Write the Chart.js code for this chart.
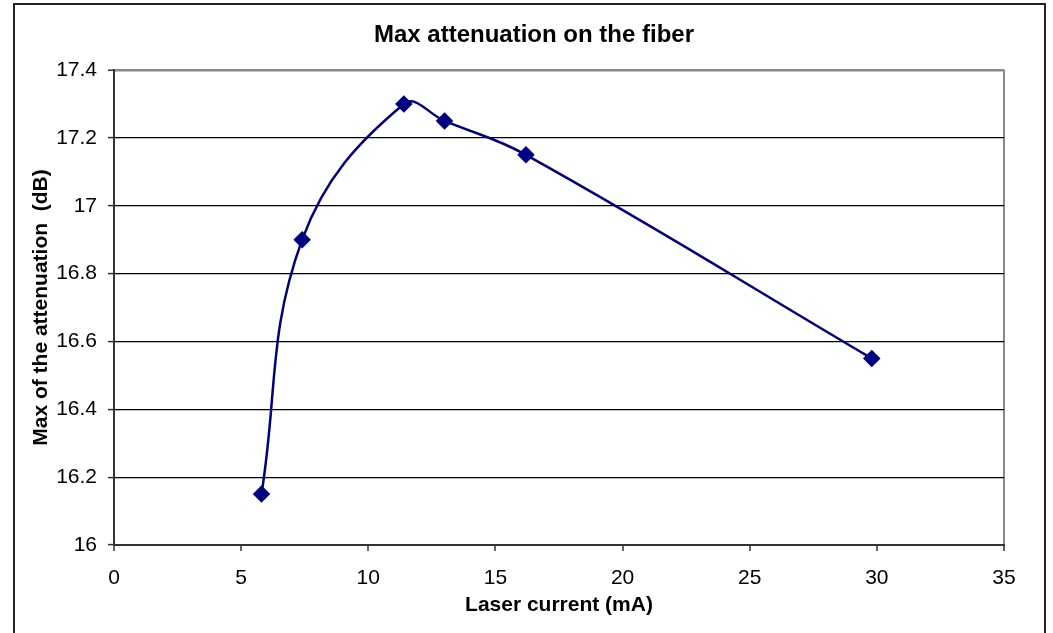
<!DOCTYPE html>
<html lang="en">
<head>
  <meta charset="UTF-8" />
  <title>Max attenuation on the fiber</title>
  <script src="https://cdn.jsdelivr.net/npm/chart.js"></script>
  <style>
    html, body { margin: 0; padding: 0; background: #fff; }
    #wrap { width: 1053px; height: 633px; }
  </style>
</head>
<body>
  <div id="wrap"><canvas id="chart" width="1053" height="633"></canvas></div>

  <script>
    // data
    const laserCurrent = [5.8, 7.4, 11.4, 13, 16.2, 29.8];
    const maxAttenuation = [16.15, 16.9, 17.3, 17.25, 17.15, 16.55];
    const xTicks = [0, 5, 10, 15, 20, 25, 30, 35];
    const yTicks = [16, 16.2, 16.4, 16.6, 16.8, 17, 17.2, 17.4];

    const chartTitle = 'Max attenuation on the fiber';
    const xTitle = 'Laser current (mA)';
    const yTitle = 'Max of the attenuation  (dB)';

    const FONT = '"Liberation Sans", Arial, sans-serif';
    const NAVY = '#000080';

    // outer frame + title centred on the whole chart, like the spreadsheet does
    const framePlugin = {
      id: 'frame',
      beforeDraw(chart) {
        const c = chart.ctx;
        c.save();
        c.fillStyle = '#fff';
        c.fillRect(0, 0, chart.width, chart.height);
        c.strokeStyle = '#222';
        c.lineWidth = 2;
        c.strokeRect(14, 4, 1031, 700);
        c.restore();
      },
      afterDraw(chart) {
        const c = chart.ctx;
        c.save();
        c.fillStyle = '#000';
        c.font = 'bold 24px ' + FONT;
        c.textAlign = 'center';
        c.textBaseline = 'middle';
        c.fillText(chartTitle, 534, 35);
        c.restore();
      }
    };

    new Chart(document.getElementById('chart'), {
      type: 'line',
      data: {
        datasets: [{
          data: laserCurrent.map((x, i) => ({ x: x, y: maxAttenuation[i] })),
          borderColor: NAVY,
          backgroundColor: NAVY,
          borderWidth: 2.5,
          tension: 0.4,
          pointStyle: 'rectRot',
          pointRadius: 7,
          pointBackgroundColor: NAVY,
          pointBorderColor: NAVY,
          fill: false
        }]
      },
      options: {
        responsive: false,
        animation: false,
        layout: { padding: { left: 15, right: 49, top: 70, bottom: 0 } },
        plugins: {
          legend: { display: false },
          title: { display: false },
          tooltip: { enabled: false }
        },
        scales: {
          x: {
            type: 'linear',
            min: 0,
            max: 35,
            afterBuildTicks: s => { s.ticks = xTicks.map(v => ({ value: v })); },
            afterFit: s => { s.height = 88; },
            ticks: {
              color: '#000',
              font: { family: FONT, size: 21 },
              padding: 15,
              maxRotation: 0,
              callback: v => String(v)
            },
            grid: {
              drawOnChartArea: true,
              color: c => (c.tick && c.tick.value === 35) ? '#888' : 'rgba(0,0,0,0)',
              lineWidth: 2,
              tickColor: '#333',
              tickLength: 6,
              tickWidth: 1.5
            },
            border: { display: true, color: '#333', width: 2 },
            title: {
              display: true,
              text: xTitle,
              color: '#000',
              font: { family: FONT, size: 21, weight: 'bold' },
              padding: { top: 0, bottom: 15 }
            }
          },
          y: {
            type: 'linear',
            min: 16,
            max: 17.4,
            afterBuildTicks: s => { s.ticks = yTicks.map(v => ({ value: v })); },
            afterFit: s => { s.width = 99; },
            ticks: {
              color: '#000',
              font: { family: FONT, size: 21 },
              padding: 11,
              callback: v => String(v)
            },
            grid: {
              color: c => (c.tick && c.tick.value === 17.4) ? '#888' : '#000',
              lineWidth: c => (c.tick && c.tick.value === 17.4) ? 2.5 : 1.2,
              tickColor: '#333',
              tickLength: 6,
              tickWidth: 1.5
            },
            border: { display: true, color: '#333', width: 2 },
            title: {
              display: true,
              text: yTitle,
              color: '#000',
              font: { family: FONT, size: 21, weight: 'bold' },
              padding: { top: 14, bottom: 0 }
            }
          }
        }
      },
      plugins: [framePlugin]
    });
  </script>
</body>
</html>
